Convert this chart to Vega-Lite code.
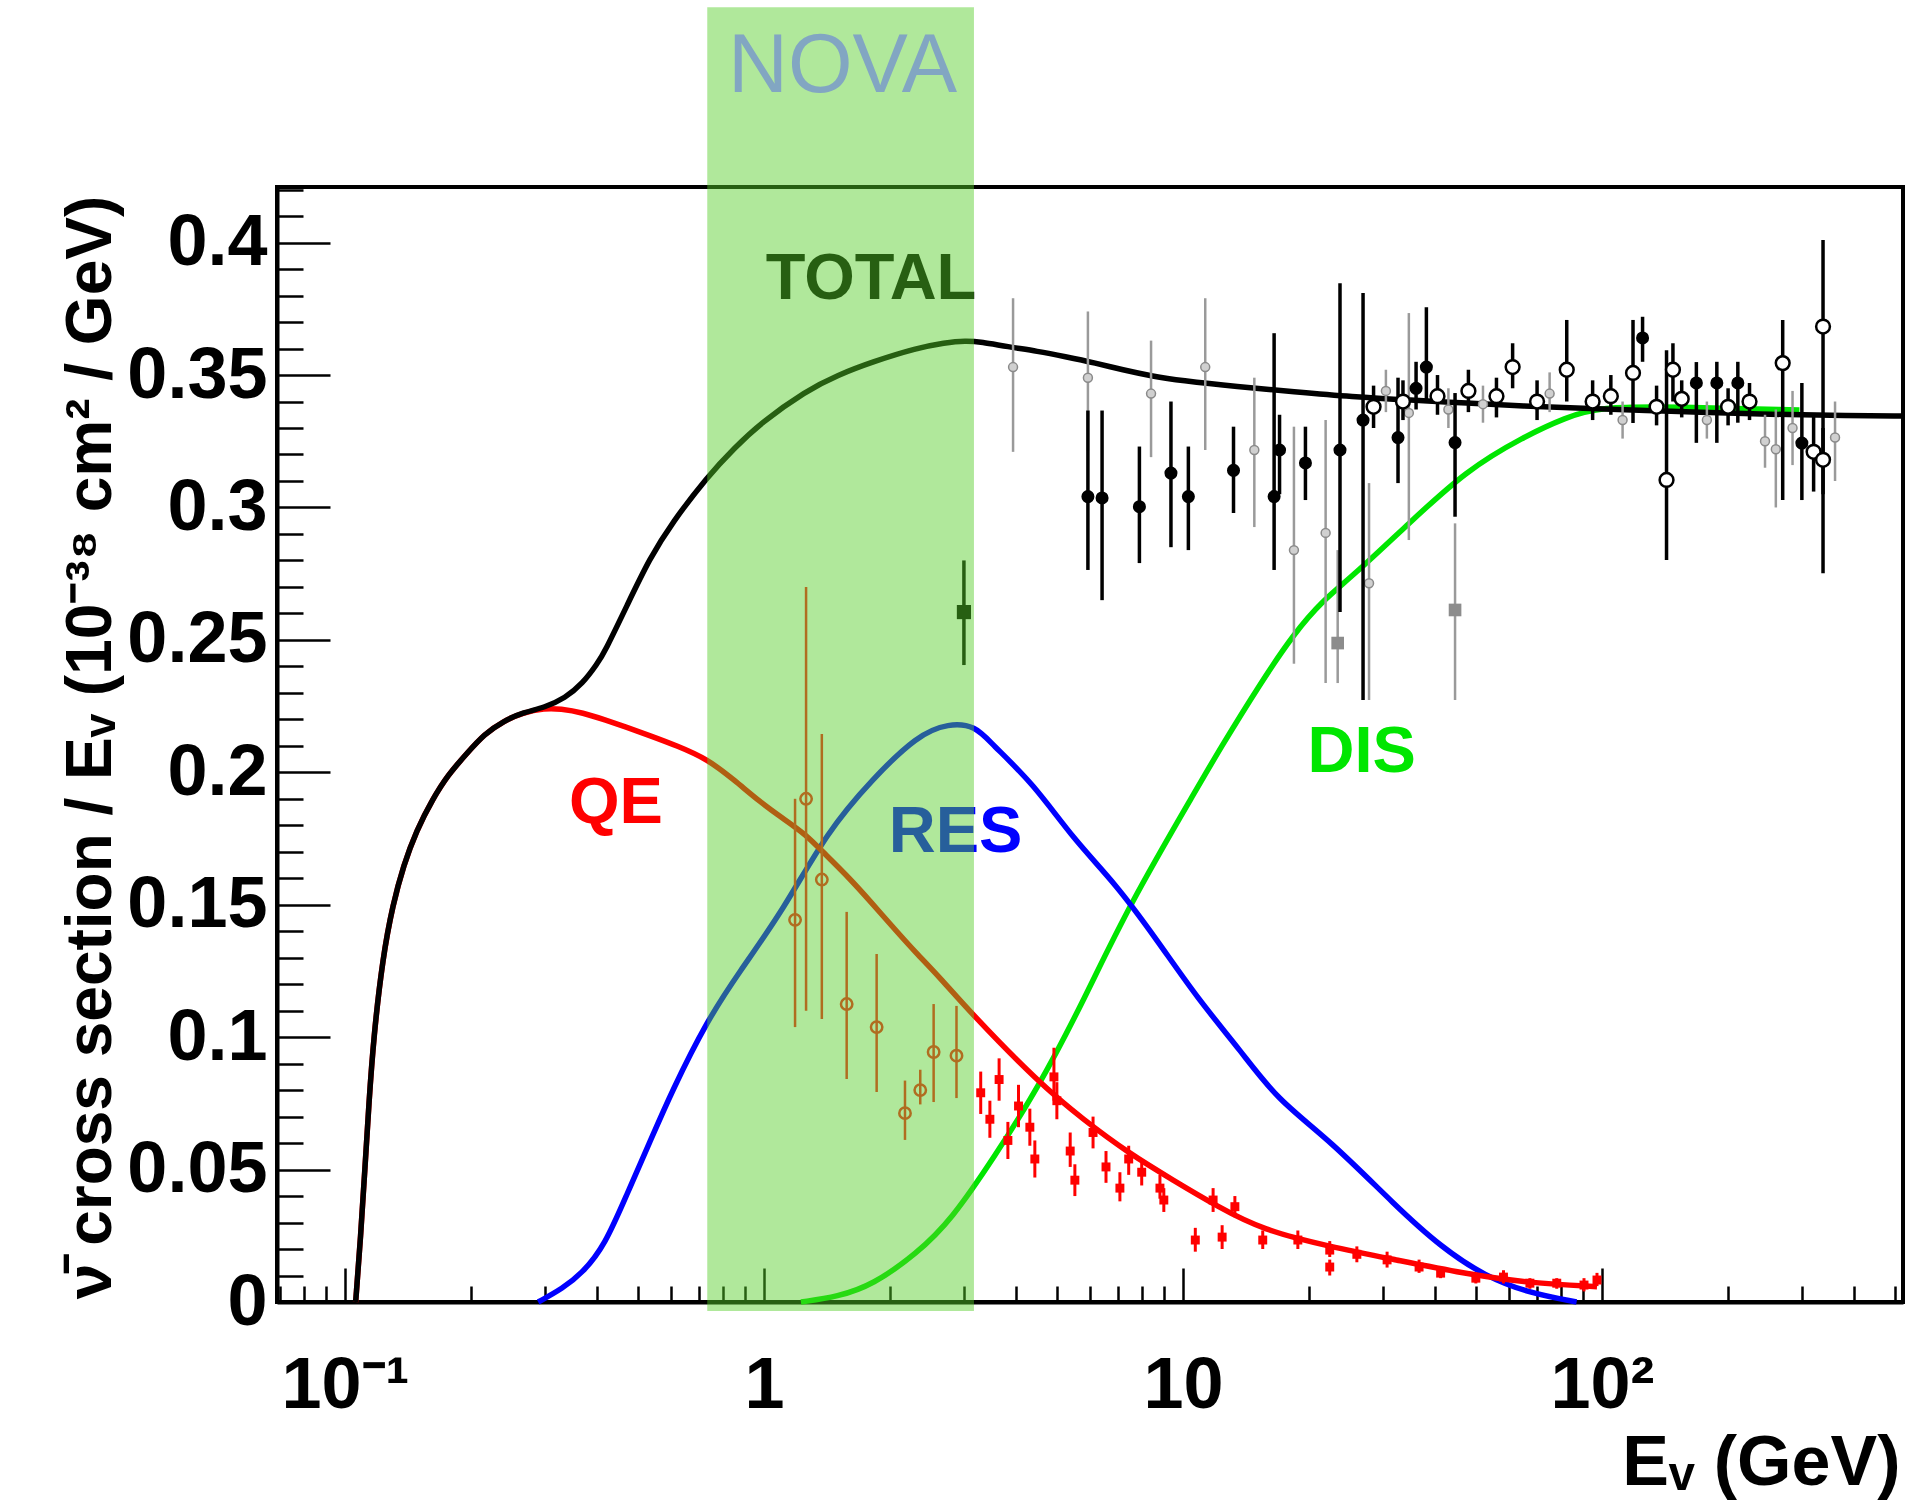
{
  "$schema": "https://vega.github.io/schema/vega-lite/v6.json",
  "width": 1626,
  "height": 1115,
  "autosize": {"type": "none"},
  "padding": {"left": 277, "top": 187, "right": 28, "bottom": 205},
  "background": "white",
  "config": {
    "view": {"stroke": "black", "strokeWidth": 4},
    "font": "Liberation Sans"
  },
  "datasets": {
    "curves": [
      {"c": "TOTAL", "E": 0.106, "v": 0},
      {"c": "TOTAL", "E": 0.109, "v": 0.025},
      {"c": "TOTAL", "E": 0.1115, "v": 0.05},
      {"c": "TOTAL", "E": 0.114, "v": 0.075},
      {"c": "TOTAL", "E": 0.117, "v": 0.1},
      {"c": "TOTAL", "E": 0.123, "v": 0.13},
      {"c": "TOTAL", "E": 0.13, "v": 0.15},
      {"c": "TOTAL", "E": 0.138, "v": 0.165},
      {"c": "TOTAL", "E": 0.148, "v": 0.178},
      {"c": "TOTAL", "E": 0.162, "v": 0.19},
      {"c": "TOTAL", "E": 0.176, "v": 0.199},
      {"c": "TOTAL", "E": 0.195, "v": 0.207},
      {"c": "TOTAL", "E": 0.215, "v": 0.2145},
      {"c": "TOTAL", "E": 0.24, "v": 0.2195},
      {"c": "TOTAL", "E": 0.265, "v": 0.2225},
      {"c": "TOTAL", "E": 0.3, "v": 0.2245},
      {"c": "TOTAL", "E": 0.335, "v": 0.228},
      {"c": "TOTAL", "E": 0.369, "v": 0.2335},
      {"c": "TOTAL", "E": 0.4, "v": 0.241},
      {"c": "TOTAL", "E": 0.417, "v": 0.2456},
      {"c": "TOTAL", "E": 0.471, "v": 0.263},
      {"c": "TOTAL", "E": 0.533, "v": 0.2807},
      {"c": "TOTAL", "E": 0.603, "v": 0.2942},
      {"c": "TOTAL", "E": 0.733, "v": 0.3117},
      {"c": "TOTAL", "E": 0.85, "v": 0.3225},
      {"c": "TOTAL", "E": 0.984, "v": 0.332},
      {"c": "TOTAL", "E": 1.258, "v": 0.344},
      {"c": "TOTAL", "E": 1.5, "v": 0.35},
      {"c": "TOTAL", "E": 1.816, "v": 0.355},
      {"c": "TOTAL", "E": 2.317, "v": 0.3602},
      {"c": "TOTAL", "E": 2.7, "v": 0.3622},
      {"c": "TOTAL", "E": 3.03, "v": 0.363},
      {"c": "TOTAL", "E": 3.3, "v": 0.3625},
      {"c": "TOTAL", "E": 3.81, "v": 0.3607},
      {"c": "TOTAL", "E": 4.5, "v": 0.359},
      {"c": "TOTAL", "E": 5.22, "v": 0.357},
      {"c": "TOTAL", "E": 6.2, "v": 0.3545},
      {"c": "TOTAL", "E": 7.16, "v": 0.352},
      {"c": "TOTAL", "E": 8.5, "v": 0.3495},
      {"c": "TOTAL", "E": 9.82, "v": 0.348},
      {"c": "TOTAL", "E": 13.5, "v": 0.3456},
      {"c": "TOTAL", "E": 18.4, "v": 0.3437},
      {"c": "TOTAL", "E": 25.3, "v": 0.3418},
      {"c": "TOTAL", "E": 35, "v": 0.3405},
      {"c": "TOTAL", "E": 47.5, "v": 0.3394},
      {"c": "TOTAL", "E": 65, "v": 0.3383},
      {"c": "TOTAL", "E": 89.3, "v": 0.3375},
      {"c": "TOTAL", "E": 130, "v": 0.3366},
      {"c": "TOTAL", "E": 168, "v": 0.336},
      {"c": "TOTAL", "E": 250, "v": 0.3352},
      {"c": "TOTAL", "E": 390, "v": 0.3346},
      {"c": "TOTAL", "E": 523, "v": 0.3345},

      {"c": "QE", "E": 0.106, "v": 0},
      {"c": "QE", "E": 0.109, "v": 0.025},
      {"c": "QE", "E": 0.1115, "v": 0.05},
      {"c": "QE", "E": 0.114, "v": 0.075},
      {"c": "QE", "E": 0.117, "v": 0.1},
      {"c": "QE", "E": 0.123, "v": 0.13},
      {"c": "QE", "E": 0.13, "v": 0.15},
      {"c": "QE", "E": 0.138, "v": 0.165},
      {"c": "QE", "E": 0.148, "v": 0.178},
      {"c": "QE", "E": 0.162, "v": 0.19},
      {"c": "QE", "E": 0.176, "v": 0.199},
      {"c": "QE", "E": 0.195, "v": 0.207},
      {"c": "QE", "E": 0.215, "v": 0.2145},
      {"c": "QE", "E": 0.24, "v": 0.2195},
      {"c": "QE", "E": 0.265, "v": 0.2225},
      {"c": "QE", "E": 0.3, "v": 0.2242},
      {"c": "QE", "E": 0.326, "v": 0.224},
      {"c": "QE", "E": 0.37, "v": 0.2225},
      {"c": "QE", "E": 0.417, "v": 0.2198},
      {"c": "QE", "E": 0.47, "v": 0.217},
      {"c": "QE", "E": 0.533, "v": 0.2139},
      {"c": "QE", "E": 0.62, "v": 0.21},
      {"c": "QE", "E": 0.733, "v": 0.205},
      {"c": "QE", "E": 0.85, "v": 0.197},
      {"c": "QE", "E": 0.984, "v": 0.1885},
      {"c": "QE", "E": 1.1, "v": 0.183},
      {"c": "QE", "E": 1.258, "v": 0.1766},
      {"c": "QE", "E": 1.4, "v": 0.169},
      {"c": "QE", "E": 1.6, "v": 0.16},
      {"c": "QE", "E": 1.8, "v": 0.151},
      {"c": "QE", "E": 2.05, "v": 0.1408},
      {"c": "QE", "E": 2.3, "v": 0.132},
      {"c": "QE", "E": 2.62, "v": 0.1228},
      {"c": "QE", "E": 3.1, "v": 0.1095},
      {"c": "QE", "E": 4.53, "v": 0.0827},
      {"c": "QE", "E": 5.8, "v": 0.0687},
      {"c": "QE", "E": 7.42, "v": 0.0562},
      {"c": "QE", "E": 9.47, "v": 0.046},
      {"c": "QE", "E": 12.1, "v": 0.036},
      {"c": "QE", "E": 15.5, "v": 0.0272},
      {"c": "QE", "E": 22.4, "v": 0.0209},
      {"c": "QE", "E": 32.3, "v": 0.0159},
      {"c": "QE", "E": 46.6, "v": 0.0108},
      {"c": "QE", "E": 67.3, "v": 0.0071},
      {"c": "QE", "E": 97.3, "v": 0.0058},

      {"c": "RES", "E": 0.289, "v": 0},
      {"c": "RES", "E": 0.33, "v": 0.005},
      {"c": "RES", "E": 0.369, "v": 0.011},
      {"c": "RES", "E": 0.417, "v": 0.0214},
      {"c": "RES", "E": 0.471, "v": 0.0408},
      {"c": "RES", "E": 0.533, "v": 0.0601},
      {"c": "RES", "E": 0.603, "v": 0.0797},
      {"c": "RES", "E": 0.733, "v": 0.1065},
      {"c": "RES", "E": 0.87, "v": 0.1243},
      {"c": "RES", "E": 1.112, "v": 0.148},
      {"c": "RES", "E": 1.42, "v": 0.178},
      {"c": "RES", "E": 1.816, "v": 0.1975},
      {"c": "RES", "E": 2.317, "v": 0.2139},
      {"c": "RES", "E": 2.76, "v": 0.2186},
      {"c": "RES", "E": 3.2, "v": 0.2175},
      {"c": "RES", "E": 3.48, "v": 0.211},
      {"c": "RES", "E": 4.38, "v": 0.196},
      {"c": "RES", "E": 5.5, "v": 0.1744},
      {"c": "RES", "E": 6.9, "v": 0.158},
      {"c": "RES", "E": 8.67, "v": 0.1367},
      {"c": "RES", "E": 10.9, "v": 0.114},
      {"c": "RES", "E": 13.7, "v": 0.0951},
      {"c": "RES", "E": 16.8, "v": 0.0763},
      {"c": "RES", "E": 22.4, "v": 0.0612},
      {"c": "RES", "E": 32.3, "v": 0.036},
      {"c": "RES", "E": 41.2, "v": 0.0209},
      {"c": "RES", "E": 52.7, "v": 0.0096},
      {"c": "RES", "E": 67.3, "v": 0.0033},
      {"c": "RES", "E": 87, "v": 0},

      {"c": "DIS", "E": 1.225, "v": 0},
      {"c": "DIS", "E": 1.5, "v": 0.002},
      {"c": "DIS", "E": 1.816, "v": 0.0064},
      {"c": "DIS", "E": 2.317, "v": 0.0183},
      {"c": "DIS", "E": 2.8, "v": 0.031},
      {"c": "DIS", "E": 3.55, "v": 0.0549},
      {"c": "DIS", "E": 4.53, "v": 0.0813},
      {"c": "DIS", "E": 5.8, "v": 0.114},
      {"c": "DIS", "E": 7.4, "v": 0.1493},
      {"c": "DIS", "E": 10.9, "v": 0.195},
      {"c": "DIS", "E": 12.2, "v": 0.2084},
      {"c": "DIS", "E": 15.3, "v": 0.2336},
      {"c": "DIS", "E": 18.4, "v": 0.2524},
      {"c": "DIS", "E": 21.6, "v": 0.265},
      {"c": "DIS", "E": 25.3, "v": 0.2738},
      {"c": "DIS", "E": 34.6, "v": 0.294},
      {"c": "DIS", "E": 47.5, "v": 0.3141},
      {"c": "DIS", "E": 65, "v": 0.3267},
      {"c": "DIS", "E": 82, "v": 0.334},
      {"c": "DIS", "E": 98.6, "v": 0.338},
      {"c": "DIS", "E": 150, "v": 0.338},
      {"c": "DIS", "E": 296, "v": 0.3368}
    ],
    "pts": [
      {"k": "rb", "E": 1.26, "v": 0.19, "lo": 0.11, "hi": 0.27},
      {"k": "rb", "E": 1.186, "v": 0.1443, "lo": 0.1038, "hi": 0.19},
      {"k": "rb", "E": 1.374, "v": 0.1595, "lo": 0.1069, "hi": 0.2145},
      {"k": "rb", "E": 1.575, "v": 0.1125, "lo": 0.0842, "hi": 0.1473},
      {"k": "rb", "E": 1.857, "v": 0.1038, "lo": 0.0793, "hi": 0.1314},
      {"k": "rb", "E": 2.17, "v": 0.0713, "lo": 0.0612, "hi": 0.0836},
      {"k": "rb", "E": 2.36, "v": 0.08, "lo": 0.0746, "hi": 0.0877},
      {"k": "rb", "E": 2.54, "v": 0.0944, "lo": 0.0755, "hi": 0.1125},
      {"k": "rb", "E": 2.88, "v": 0.093, "lo": 0.077, "hi": 0.1118},
      {"k": "bs", "E": 3.0, "v": 0.2605, "lo": 0.2405, "hi": 0.28},

      {"k": "r", "E": 3.29, "v": 0.079, "lo": 0.071, "hi": 0.087},
      {"k": "r", "E": 3.46, "v": 0.069, "lo": 0.062, "hi": 0.076},
      {"k": "r", "E": 3.64, "v": 0.084, "lo": 0.076, "hi": 0.092},
      {"k": "r", "E": 3.82, "v": 0.061, "lo": 0.054, "hi": 0.068},
      {"k": "r", "E": 4.05, "v": 0.074, "lo": 0.066, "hi": 0.082},
      {"k": "r", "E": 4.31, "v": 0.066, "lo": 0.059, "hi": 0.073},
      {"k": "r", "E": 4.43, "v": 0.054, "lo": 0.047, "hi": 0.061},
      {"k": "r", "E": 4.92, "v": 0.085, "lo": 0.076, "hi": 0.096},
      {"k": "r", "E": 5.0, "v": 0.076, "lo": 0.069, "hi": 0.083},
      {"k": "r", "E": 5.38, "v": 0.057, "lo": 0.051, "hi": 0.064},
      {"k": "r", "E": 5.52, "v": 0.046, "lo": 0.04, "hi": 0.052},
      {"k": "r", "E": 6.1, "v": 0.064, "lo": 0.058, "hi": 0.07},
      {"k": "r", "E": 6.55, "v": 0.051, "lo": 0.045, "hi": 0.057},
      {"k": "r", "E": 7.07, "v": 0.043, "lo": 0.038, "hi": 0.049},
      {"k": "r", "E": 7.42, "v": 0.054, "lo": 0.048, "hi": 0.059},
      {"k": "r", "E": 7.97, "v": 0.049, "lo": 0.044, "hi": 0.054},
      {"k": "r", "E": 8.81, "v": 0.043, "lo": 0.039, "hi": 0.048},
      {"k": "r", "E": 9.0, "v": 0.0385, "lo": 0.034, "hi": 0.043},
      {"k": "r", "E": 10.7, "v": 0.0234, "lo": 0.019, "hi": 0.028},
      {"k": "r", "E": 11.8, "v": 0.0385, "lo": 0.034, "hi": 0.043},
      {"k": "r", "E": 12.4, "v": 0.0245, "lo": 0.02, "hi": 0.029},
      {"k": "r", "E": 13.3, "v": 0.036, "lo": 0.032, "hi": 0.04},
      {"k": "r", "E": 15.5, "v": 0.0234, "lo": 0.02, "hi": 0.027},
      {"k": "r", "E": 18.8, "v": 0.0234, "lo": 0.02, "hi": 0.027},
      {"k": "r", "E": 22.4, "v": 0.0196, "lo": 0.017, "hi": 0.023},
      {"k": "r", "E": 22.4, "v": 0.0132, "lo": 0.01, "hi": 0.016},
      {"k": "r", "E": 26.0, "v": 0.018, "lo": 0.015, "hi": 0.021},
      {"k": "r", "E": 30.7, "v": 0.0159, "lo": 0.013, "hi": 0.019},
      {"k": "r", "E": 36.6, "v": 0.0132, "lo": 0.011, "hi": 0.016},
      {"k": "r", "E": 41.2, "v": 0.0109, "lo": 0.009, "hi": 0.013},
      {"k": "r", "E": 50.0, "v": 0.009, "lo": 0.007, "hi": 0.011},
      {"k": "r", "E": 58.2, "v": 0.0094, "lo": 0.007, "hi": 0.012},
      {"k": "r", "E": 67.3, "v": 0.0071, "lo": 0.005, "hi": 0.009},
      {"k": "r", "E": 78.0, "v": 0.0071, "lo": 0.005, "hi": 0.009},
      {"k": "r", "E": 90.6, "v": 0.0064, "lo": 0.004, "hi": 0.009},
      {"k": "r", "E": 97.3, "v": 0.0083, "lo": 0.006, "hi": 0.011},

      {"k": "g", "E": 3.93, "v": 0.353, "lo": 0.321, "hi": 0.379},
      {"k": "g", "E": 5.93, "v": 0.349, "lo": 0.3215, "hi": 0.374},
      {"k": "g", "E": 8.39, "v": 0.343, "lo": 0.319, "hi": 0.363},
      {"k": "g", "E": 11.3, "v": 0.353, "lo": 0.3217, "hi": 0.379},
      {"k": "g", "E": 14.8, "v": 0.3217, "lo": 0.2926, "hi": 0.349},
      {"k": "g", "E": 18.4, "v": 0.2839, "lo": 0.241, "hi": 0.3305},
      {"k": "g", "E": 21.9, "v": 0.2904, "lo": 0.2337, "hi": 0.333},
      {"k": "gs", "E": 23.4, "v": 0.2488, "lo": 0.2337, "hi": 0.2839},
      {"k": "g", "E": 27.8, "v": 0.2714, "lo": 0.2273, "hi": 0.3092},
      {"k": "g", "E": 34.6, "v": 0.3357, "lo": 0.2877, "hi": 0.3734},
      {"k": "gs", "E": 44.6, "v": 0.2613, "lo": 0.2273, "hi": 0.294},
      {"k": "g", "E": 30.5, "v": 0.344, "lo": 0.336, "hi": 0.352},
      {"k": "g", "E": 43.0, "v": 0.337, "lo": 0.33, "hi": 0.345},
      {"k": "g", "E": 52.0, "v": 0.339, "lo": 0.332, "hi": 0.346},
      {"k": "g", "E": 75.0, "v": 0.343, "lo": 0.336, "hi": 0.351},
      {"k": "g", "E": 112, "v": 0.333, "lo": 0.326, "hi": 0.34},
      {"k": "g", "E": 178, "v": 0.333, "lo": 0.326, "hi": 0.34},
      {"k": "g", "E": 245, "v": 0.325, "lo": 0.315, "hi": 0.335},
      {"k": "g", "E": 260, "v": 0.322, "lo": 0.3, "hi": 0.337},
      {"k": "g", "E": 285, "v": 0.33, "lo": 0.316, "hi": 0.344},
      {"k": "g", "E": 360, "v": 0.3264, "lo": 0.31, "hi": 0.34},

      {"k": "b", "E": 5.93, "v": 0.3041, "lo": 0.2764, "hi": 0.3366},
      {"k": "b", "E": 6.41, "v": 0.3036, "lo": 0.265, "hi": 0.3366},
      {"k": "b", "E": 7.87, "v": 0.3003, "lo": 0.279, "hi": 0.323},
      {"k": "b", "E": 9.36, "v": 0.313, "lo": 0.285, "hi": 0.34},
      {"k": "b", "E": 10.3, "v": 0.3041, "lo": 0.2839, "hi": 0.323},
      {"k": "b", "E": 13.2, "v": 0.314, "lo": 0.2979, "hi": 0.3305},
      {"k": "b", "E": 16.5, "v": 0.3041, "lo": 0.2764, "hi": 0.3658},
      {"k": "b", "E": 17.0, "v": 0.3217, "lo": 0.305, "hi": 0.335},
      {"k": "b", "E": 19.6, "v": 0.3168, "lo": 0.3028, "hi": 0.3305},
      {"k": "b", "E": 23.7, "v": 0.3217, "lo": 0.2605, "hi": 0.3847},
      {"k": "b", "E": 26.9, "v": 0.333, "lo": 0.2273, "hi": 0.381},
      {"k": "b", "E": 32.6, "v": 0.3264, "lo": 0.3092, "hi": 0.349},
      {"k": "b", "E": 36.0, "v": 0.345, "lo": 0.337, "hi": 0.355},
      {"k": "b", "E": 38.1, "v": 0.353, "lo": 0.3403, "hi": 0.3756},
      {"k": "b", "E": 44.6, "v": 0.3245, "lo": 0.2965, "hi": 0.3432},
      {"k": "b", "E": 125, "v": 0.364, "lo": 0.355, "hi": 0.372},
      {"k": "b", "E": 168, "v": 0.347, "lo": 0.3244, "hi": 0.3549},
      {"k": "b", "E": 188, "v": 0.347, "lo": 0.3244, "hi": 0.355},
      {"k": "b", "E": 211, "v": 0.347, "lo": 0.332, "hi": 0.355},
      {"k": "b", "E": 300, "v": 0.3243, "lo": 0.3028, "hi": 0.347},

      {"k": "o", "E": 28.5, "v": 0.338, "lo": 0.33, "hi": 0.346},
      {"k": "o", "E": 33.5, "v": 0.34, "lo": 0.333, "hi": 0.348},
      {"k": "o", "E": 40.5, "v": 0.342, "lo": 0.335, "hi": 0.35},
      {"k": "o", "E": 48.0, "v": 0.344, "lo": 0.336, "hi": 0.352},
      {"k": "o", "E": 56.0, "v": 0.342, "lo": 0.334, "hi": 0.349},
      {"k": "o", "E": 61.2, "v": 0.353, "lo": 0.345, "hi": 0.362},
      {"k": "o", "E": 70.0, "v": 0.34, "lo": 0.333, "hi": 0.348},
      {"k": "o", "E": 82.4, "v": 0.352, "lo": 0.34, "hi": 0.3708},
      {"k": "o", "E": 95.0, "v": 0.34, "lo": 0.333, "hi": 0.348},
      {"k": "o", "E": 105, "v": 0.342, "lo": 0.335, "hi": 0.35},
      {"k": "o", "E": 118.6, "v": 0.3508, "lo": 0.3319, "hi": 0.3708},
      {"k": "o", "E": 135, "v": 0.338, "lo": 0.331, "hi": 0.346},
      {"k": "o", "E": 142.6, "v": 0.3104, "lo": 0.2802, "hi": 0.3594},
      {"k": "o", "E": 147.7, "v": 0.352, "lo": 0.34, "hi": 0.362},
      {"k": "o", "E": 155, "v": 0.341, "lo": 0.334, "hi": 0.348},
      {"k": "o", "E": 200, "v": 0.338, "lo": 0.331, "hi": 0.345},
      {"k": "o", "E": 225, "v": 0.34, "lo": 0.333, "hi": 0.347},
      {"k": "o", "E": 270, "v": 0.3545, "lo": 0.3028, "hi": 0.3708},
      {"k": "o", "E": 320, "v": 0.321, "lo": 0.306, "hi": 0.335},
      {"k": "o", "E": 337, "v": 0.3683, "lo": 0.2752, "hi": 0.401},
      {"k": "o", "E": 337, "v": 0.318, "lo": 0.305, "hi": 0.33}
    ],
    "labels": [
      {"label": "TOTAL", "E": 1.8, "v": 0.3787},
      {"label": "QE", "E": 0.443, "v": 0.1809},
      {"label": "RES", "E": 2.866, "v": 0.1699},
      {"label": "DIS", "E": 26.7, "v": 0.2001}
    ],
    "band": [
      {"E": 0.732, "E2": 3.17, "v": -0.0034, "v2": 0.4889}
    ],
    "nova": [
      {"label": "NOVA", "E": 1.539, "v": 0.4569}
    ]
  },
  "resolve": {"axis": {"x": "independent", "y": "independent"}},
  "layer": [
    {
      "data": {"name": "curves"},
      "transform": [{"filter": "datum.c == 'DIS'"}],
      "mark": {"type": "line", "color": "#00e600", "strokeWidth": 5.5, "interpolate": "basis"},
      "encoding": {
        "x": {
          "field": "E", "type": "quantitative",
          "scale": {"type": "log", "domain": [0.0688, 523], "nice": false},
          "axis": {
            "orient": "bottom", "values": [0.1, 1, 10, 100], "grid": false,
            "ticks": false, "domain": true, "domainColor": "black", "domainWidth": 4,
            "labelFont": "Liberation Sans", "labelFontWeight": "bold", "labelFontSize": 72,
            "labelColor": "black", "labelPadding": 48, "labelFlush": false, "labelOverlap": false,
            "labelExpr": "datum.value < 0.5 ? '10⁻¹' : datum.value < 5 ? '1' : datum.value < 50 ? '10' : '10²'",
            "title": "Eᵥ (GeV)", "titleFont": "Liberation Sans", "titleFontWeight": "bold",
            "titleFontSize": 70, "titleColor": "black", "titleAlign": "right",
            "titleBaseline": "alphabetic", "titleX": 1623, "titleY": 182
          }
        },
        "y": {
          "field": "v", "type": "quantitative",
          "scale": {"domain": [0, 0.421], "nice": false, "zero": false},
          "axis": {
            "orient": "left", "values": [0, 0.05, 0.1, 0.15, 0.2, 0.25, 0.3, 0.35, 0.4], "grid": false,
            "ticks": false, "domain": true, "domainColor": "black", "domainWidth": 4,
            "labelFont": "Liberation Sans", "labelFontWeight": "bold", "labelFontSize": 72,
            "labelColor": "black", "labelPadding": 10, "labelFlush": false, "labelOverlap": false,
            "labelExpr": "format(datum.value, '~g')",
            "title": "ν̄ cross section / Eᵥ (10⁻³⁸ cm² / GeV)", "titleFont": "Liberation Sans",
            "titleFontWeight": "bold", "titleFontSize": 64, "titleColor": "black",
            "titleAngle": -90, "titleAlign": "center", "titleBaseline": "alphabetic",
            "titleX": -167, "titleY": 560
          }
        }
      }
    },
    {
      "data": {"name": "curves"},
      "transform": [{"filter": "datum.c == 'RES'"}],
      "mark": {"type": "line", "color": "#0000ff", "strokeWidth": 5.5, "interpolate": "basis"},
      "encoding": {
        "x": {
          "field": "E", "type": "quantitative",
          "scale": {"type": "log", "domain": [0.0688, 523], "nice": false},
          "axis": {
            "orient": "bottom", "values": [0.1, 1, 10, 100], "grid": false,
            "ticks": true, "tickSize": -34, "tickWidth": 2.5, "tickColor": "black",
            "labels": false, "domain": false, "title": null
          }
        },
        "y": {
          "field": "v", "type": "quantitative",
          "scale": {"domain": [0, 0.421], "nice": false, "zero": false},
          "axis": {
            "orient": "left", "values": [0, 0.05, 0.1, 0.15, 0.2, 0.25, 0.3, 0.35, 0.4], "grid": false,
            "ticks": true, "tickSize": -53, "tickWidth": 2.5, "tickColor": "black",
            "labels": false, "domain": false, "title": null
          }
        }
      }
    },
    {
      "data": {"name": "curves"},
      "transform": [{"filter": "datum.c == 'QE'"}],
      "mark": {"type": "line", "color": "#ff0000", "strokeWidth": 5.5, "interpolate": "basis"},
      "encoding": {
        "x": {
          "field": "E", "type": "quantitative",
          "scale": {"type": "log", "domain": [0.0688, 523], "nice": false},
          "axis": {
            "orient": "bottom",
            "values": [0.07, 0.08, 0.09, 0.2, 0.3, 0.4, 0.5, 0.6, 0.7, 0.8, 0.9, 2, 3, 4, 5, 6, 7, 8, 9, 20, 30, 40, 50, 60, 70, 80, 90, 200, 300, 400, 500],
            "grid": false, "ticks": true, "tickSize": -16, "tickWidth": 2.5, "tickColor": "black",
            "labels": false, "domain": false, "title": null
          }
        },
        "y": {
          "field": "v", "type": "quantitative",
          "scale": {"domain": [0, 0.421], "nice": false, "zero": false},
          "axis": {
            "orient": "left",
            "values": [0.01, 0.02, 0.03, 0.04, 0.06, 0.07, 0.08, 0.09, 0.11, 0.12, 0.13, 0.14, 0.16, 0.17, 0.18, 0.19, 0.21, 0.22, 0.23, 0.24, 0.26, 0.27, 0.28, 0.29, 0.31, 0.32, 0.33, 0.34, 0.36, 0.37, 0.38, 0.39, 0.41, 0.42],
            "grid": false, "ticks": true, "tickSize": -26, "tickWidth": 2.5, "tickColor": "black",
            "labels": false, "domain": false, "title": null
          }
        }
      }
    },
    {
      "data": {"name": "curves"},
      "transform": [{"filter": "datum.c == 'TOTAL'"}],
      "mark": {"type": "line", "color": "black", "strokeWidth": 5.5, "interpolate": "basis"},
      "encoding": {
        "x": {"field": "E", "type": "quantitative", "scale": {"type": "log", "domain": [0.0688, 523], "nice": false}, "axis": null},
        "y": {"field": "v", "type": "quantitative", "scale": {"domain": [0, 0.421], "nice": false, "zero": false}, "axis": null}
      }
    },
    {
      "data": {"name": "pts"},
      "transform": [{"filter": "datum.k == 'g' || datum.k == 'gs'"}],
      "mark": {"type": "rule", "color": "#9a9a9a", "strokeWidth": 2.5},
      "encoding": {
        "x": {"field": "E", "type": "quantitative", "scale": {"type": "log", "domain": [0.0688, 523], "nice": false}, "axis": null},
        "y": {"field": "lo", "type": "quantitative", "scale": {"domain": [0, 0.421], "nice": false, "zero": false}, "axis": null},
        "y2": {"field": "hi"}
      }
    },
    {
      "data": {"name": "pts"},
      "transform": [{"filter": "datum.k == 'g'"}],
      "mark": {"type": "point", "shape": "circle", "filled": true, "fill": "#d0d0d0", "stroke": "#8a8a8a", "strokeWidth": 1.5, "size": 80, "opacity": 1},
      "encoding": {
        "x": {"field": "E", "type": "quantitative", "scale": {"type": "log", "domain": [0.0688, 523], "nice": false}, "axis": null},
        "y": {"field": "v", "type": "quantitative", "scale": {"domain": [0, 0.421], "nice": false, "zero": false}, "axis": null}
      }
    },
    {
      "data": {"name": "pts"},
      "transform": [{"filter": "datum.k == 'gs'"}],
      "mark": {"type": "point", "shape": "square", "filled": true, "color": "#8c8c8c", "size": 160, "opacity": 1},
      "encoding": {
        "x": {"field": "E", "type": "quantitative", "scale": {"type": "log", "domain": [0.0688, 523], "nice": false}, "axis": null},
        "y": {"field": "v", "type": "quantitative", "scale": {"domain": [0, 0.421], "nice": false, "zero": false}, "axis": null}
      }
    },
    {
      "data": {"name": "pts"},
      "transform": [{"filter": "datum.k == 'b' || datum.k == 'o' || datum.k == 'bs'"}],
      "mark": {"type": "rule", "color": "black", "strokeWidth": 3.5},
      "encoding": {
        "x": {"field": "E", "type": "quantitative", "scale": {"type": "log", "domain": [0.0688, 523], "nice": false}, "axis": null},
        "y": {"field": "lo", "type": "quantitative", "scale": {"domain": [0, 0.421], "nice": false, "zero": false}, "axis": null},
        "y2": {"field": "hi"}
      }
    },
    {
      "data": {"name": "pts"},
      "transform": [{"filter": "datum.k == 'b'"}],
      "mark": {"type": "point", "shape": "circle", "filled": true, "color": "black", "size": 170, "opacity": 1},
      "encoding": {
        "x": {"field": "E", "type": "quantitative", "scale": {"type": "log", "domain": [0.0688, 523], "nice": false}, "axis": null},
        "y": {"field": "v", "type": "quantitative", "scale": {"domain": [0, 0.421], "nice": false, "zero": false}, "axis": null}
      }
    },
    {
      "data": {"name": "pts"},
      "transform": [{"filter": "datum.k == 'o'"}],
      "mark": {"type": "point", "shape": "circle", "filled": true, "fill": "white", "stroke": "black", "strokeWidth": 2.5, "size": 190, "opacity": 1},
      "encoding": {
        "x": {"field": "E", "type": "quantitative", "scale": {"type": "log", "domain": [0.0688, 523], "nice": false}, "axis": null},
        "y": {"field": "v", "type": "quantitative", "scale": {"domain": [0, 0.421], "nice": false, "zero": false}, "axis": null}
      }
    },
    {
      "data": {"name": "pts"},
      "transform": [{"filter": "datum.k == 'bs'"}],
      "mark": {"type": "point", "shape": "square", "filled": true, "color": "black", "size": 200, "opacity": 1},
      "encoding": {
        "x": {"field": "E", "type": "quantitative", "scale": {"type": "log", "domain": [0.0688, 523], "nice": false}, "axis": null},
        "y": {"field": "v", "type": "quantitative", "scale": {"domain": [0, 0.421], "nice": false, "zero": false}, "axis": null}
      }
    },
    {
      "data": {"name": "pts"},
      "transform": [{"filter": "datum.k == 'r'"}],
      "mark": {"type": "rule", "color": "#ff0000", "strokeWidth": 3},
      "encoding": {
        "x": {"field": "E", "type": "quantitative", "scale": {"type": "log", "domain": [0.0688, 523], "nice": false}, "axis": null},
        "y": {"field": "lo", "type": "quantitative", "scale": {"domain": [0, 0.421], "nice": false, "zero": false}, "axis": null},
        "y2": {"field": "hi"}
      }
    },
    {
      "data": {"name": "pts"},
      "transform": [{"filter": "datum.k == 'r'"}],
      "mark": {"type": "point", "shape": "square", "filled": true, "color": "#ff0000", "size": 80, "opacity": 1},
      "encoding": {
        "x": {"field": "E", "type": "quantitative", "scale": {"type": "log", "domain": [0.0688, 523], "nice": false}, "axis": null},
        "y": {"field": "v", "type": "quantitative", "scale": {"domain": [0, 0.421], "nice": false, "zero": false}, "axis": null}
      }
    },
    {
      "data": {"name": "pts"},
      "transform": [{"filter": "datum.k == 'rb'"}],
      "mark": {"type": "rule", "color": "#ff1a1a", "strokeWidth": 2.5},
      "encoding": {
        "x": {"field": "E", "type": "quantitative", "scale": {"type": "log", "domain": [0.0688, 523], "nice": false}, "axis": null},
        "y": {"field": "lo", "type": "quantitative", "scale": {"domain": [0, 0.421], "nice": false, "zero": false}, "axis": null},
        "y2": {"field": "hi"}
      }
    },
    {
      "data": {"name": "pts"},
      "transform": [{"filter": "datum.k == 'rb'"}],
      "mark": {"type": "point", "shape": "circle", "filled": false, "stroke": "#ff1a1a", "strokeWidth": 2.5, "size": 130, "opacity": 1},
      "encoding": {
        "x": {"field": "E", "type": "quantitative", "scale": {"type": "log", "domain": [0.0688, 523], "nice": false}, "axis": null},
        "y": {"field": "v", "type": "quantitative", "scale": {"domain": [0, 0.421], "nice": false, "zero": false}, "axis": null}
      }
    },
    {
      "data": {"name": "labels"},
      "mark": {"type": "text", "font": "Liberation Sans", "fontWeight": "bold", "fontSize": 65, "align": "center", "baseline": "alphabetic"},
      "encoding": {
        "x": {"field": "E", "type": "quantitative", "scale": {"type": "log", "domain": [0.0688, 523], "nice": false}, "axis": null},
        "y": {"field": "v", "type": "quantitative", "scale": {"domain": [0, 0.421], "nice": false, "zero": false}, "axis": null},
        "text": {"field": "label"},
        "color": {"field": "label", "type": "nominal", "scale": {"domain": ["TOTAL", "QE", "RES", "DIS"], "range": ["#000000", "#ff0000", "#0000ff", "#00e600"]}, "legend": null}
      }
    },
    {
      "data": {"name": "band"},
      "mark": {"type": "rect", "color": "#54cd27", "opacity": 0.463},
      "encoding": {
        "x": {"field": "E", "type": "quantitative", "scale": {"type": "log", "domain": [0.0688, 523], "nice": false}, "axis": null},
        "x2": {"field": "E2"},
        "y": {"field": "v", "type": "quantitative", "scale": {"domain": [0, 0.421], "nice": false, "zero": false}, "axis": null},
        "y2": {"field": "v2"}
      }
    },
    {
      "data": {"name": "nova"},
      "mark": {"type": "text", "font": "Liberation Sans", "fontWeight": "normal", "fontSize": 83, "align": "center", "baseline": "alphabetic", "color": "#82a6c2"},
      "encoding": {
        "x": {"field": "E", "type": "quantitative", "scale": {"type": "log", "domain": [0.0688, 523], "nice": false}, "axis": null},
        "y": {"field": "v", "type": "quantitative", "scale": {"domain": [0, 0.421], "nice": false, "zero": false}, "axis": null},
        "text": {"field": "label"}
      }
    }
  ]
}
